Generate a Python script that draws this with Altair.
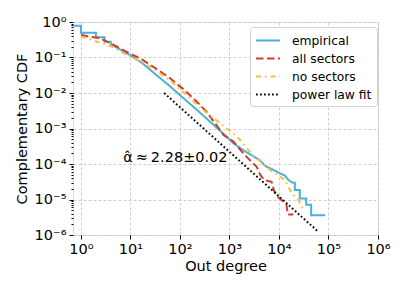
import altair as alt
import pandas as pd

# ---- data (values, not positions) ----
emp_x = [0.69, 1, 1, 2, 2, 3, 3, 4, 4, 5.6, 9.8, 17, 31, 58, 100, 186, 407, 871, 1202, 1905,
         2570, 4169, 5250, 10470, 13180, 15490, 19050, 20890, 20890, 26300, 26300, 35480,
         35480, 44670, 44670, 85110]
emp_y = [0.78, 0.78, 0.50, 0.50, 0.37, 0.37, 0.28, 0.28, 0.24, 0.18, 0.117, 0.071, 0.035,
         0.017, 0.0087, 0.0041, 0.00155, 5.9e-4, 3.8e-4, 2.45e-4, 1.9e-4, 1.26e-4, 8.9e-5,
         5.5e-5, 4.7e-5, 3.55e-5, 2.95e-5, 2.95e-5, 1.86e-5, 1.86e-5, 1.07e-5, 1.07e-5,
         7.1e-6, 7.1e-6, 3.6e-6, 3.6e-6]

all_x = [1, 1.41, 2.4, 4.2, 8.3, 17, 31, 60, 112, 186, 347, 759, 1202, 1905, 2570, 3548,
         4169, 5012, 7079, 7943, 9333, 12020, 14130, 15140, 19500]
all_y = [0.44, 0.39, 0.35, 0.24, 0.145, 0.089, 0.051, 0.0275, 0.0135, 0.0071, 0.00295,
         6.6e-4, 4.3e-4, 2.0e-4, 1.29e-4, 8.3e-5, 5.0e-5, 3.55e-5, 3.16e-5, 1.78e-5,
         1.2e-5, 8.9e-6, 7.1e-6, 3.8e-6, 3.8e-6]

no_x = [1, 1.66, 4.2, 9.8, 17, 31, 65, 135, 295, 646, 1413, 2818, 3548, 6607, 13180,
        18200, 24550, 30200]
no_y = [0.39, 0.31, 0.204, 0.105, 0.076, 0.045, 0.022, 0.0087, 0.0033, 0.00141, 6.0e-4,
        1.9e-4, 1.45e-4, 6.8e-5, 3.55e-5, 1.48e-5, 9.8e-6, 5.6e-6]

fit_x = [47.9, 58900]
fit_y = [1.0e-2, 1.32e-6]

series_names = ["empirical", "all sectors", "no sectors", "power law fit"]
series_colors = ["#4bb1d8", "#d23c2c", "#fbbd3c", "#111111"]
series_dashes = [[1, 0], [7.5, 3.5], [5, 4, 1.5, 4], [1.8, 2.2]]

x_major = [1, 10, 100, 1000, 1e4, 1e5, 1e6]
y_major = [1e-6, 1e-5, 1e-4, 1e-3, 1e-2, 1e-1, 1]
y_minor = [m * d for d in [1e-6, 1e-5, 1e-4, 1e-3, 1e-2, 1e-1] for m in range(2, 10)]

annot_text = "α̂\u2009≈\u20092.28±0.02"

# ---- build table ----
rows = []
for name, xs, ys in [("empirical", emp_x, emp_y), ("all sectors", all_x, all_y),
                     ("no sectors", no_x, no_y), ("power law fit", fit_x, fit_y)]:
    for i, (a, b) in enumerate(zip(xs, ys)):
        rows.append({"series": name, "x": a, "y": b, "i": i})
df = pd.DataFrame(rows)

FONT = "DejaVu Sans"
sup = {"0": "⁰", "1": "¹", "2": "²", "3": "³", "4": "⁴", "5": "⁵", "6": "⁶", "-": "⁻"}


def label_expr(exps):
    L = "(log(datum.value)/LN10)"
    expr = "''"
    for e in exps:
        s = "10" + "".join(sup[c] for c in str(e))
        expr = f"(round({L})=={e} ? '{s}' : {expr})"
    return f"(abs({L}-round({L}))>0.01) ? '' : {expr}"


major_test = "abs(log(datum.value)/LN10 - round(log(datum.value)/LN10)) < 0.01"

x_scale = alt.Scale(type="log", domain=[0.69, 1e6], nice=False)
y_scale = alt.Scale(type="log", domain=[1e-6, 1], nice=False)

x_axis = alt.Axis(values=x_major, title="Out degree", labelExpr=label_expr(range(0, 7)),
                  grid=True, gridDash=[3, 2], gridColor="#c4c4c4", gridWidth=0.8,
                  tickSize=4, tickColor="black", domain=False, labelFontSize=14.5,
                  labelPadding=3, titleFontSize=14.5, titleFontWeight="normal",
                  titlePadding=4, labelFont=FONT, titleFont=FONT, labelColor="black",
                  titleColor="black", labelOverlap=False, labelFlush=False)

y_axis = alt.Axis(values=y_major + y_minor, title="Complementary CDF",
                  labelExpr=label_expr(range(-6, 1)),
                  grid=True, gridDash=[3, 2], gridColor="#c4c4c4", gridWidth=0.8,
                  gridOpacity={"condition": {"test": major_test, "value": 1}, "value": 0},
                  tickSize={"condition": {"test": major_test, "value": 4}, "value": 2},
                  tickColor="black", domain=False, labelFontSize=14.5, labelPadding=3,
                  titleFontSize=14.5, titleFontWeight="normal", titlePadding=5,
                  labelFont=FONT, titleFont=FONT, labelColor="black", titleColor="black",
                  labelOverlap=False, labelFlush=False)

legend_opts = dict(title=None, orient="none", legendX=177, legendY=5,
                   symbolType="M-1,0H2.2", symbolSize=225, symbolStrokeWidth=2,
                   labelFontSize=12.3, labelFont=FONT, labelColor="black", labelOffset=20,
                   rowPadding=3, padding=5, fillColor="white",
                   strokeColor="#d0d0d0", cornerRadius=3)

lines = alt.Chart(df).mark_line(strokeWidth=2, clip=True).encode(
    x=alt.X("x:Q", scale=x_scale, axis=x_axis),
    y=alt.Y("y:Q", scale=y_scale, axis=y_axis),
    color=alt.Color("series:N", sort=series_names,
                    scale=alt.Scale(domain=series_names, range=series_colors),
                    legend=alt.Legend(**legend_opts)),
    strokeDash=alt.StrokeDash("series:N", sort=series_names,
                              scale=alt.Scale(domain=series_names, range=series_dashes),
                              legend=alt.Legend(**legend_opts)),
    order=alt.Order("i:Q"),
)

annot = alt.Chart(pd.DataFrame({"t": [annot_text]})).mark_text(
    font=FONT, fontSize=14.5, color="black", align="center", baseline="alphabetic", dy=-2
).encode(x=alt.datum(81), y=alt.datum(1e-4), text="t:N")

chart = alt.layer(lines, annot).properties(
    width=305, height=213,
    autosize=alt.AutoSizeParams(type="none"),
    padding={"left": 65, "top": 14, "right": 21, "bottom": 48},
).configure_view(stroke="#222222", strokeWidth=1).configure(background="white")

chart.save("out.html", embed_options={"renderer": "svg", "actions": False})
